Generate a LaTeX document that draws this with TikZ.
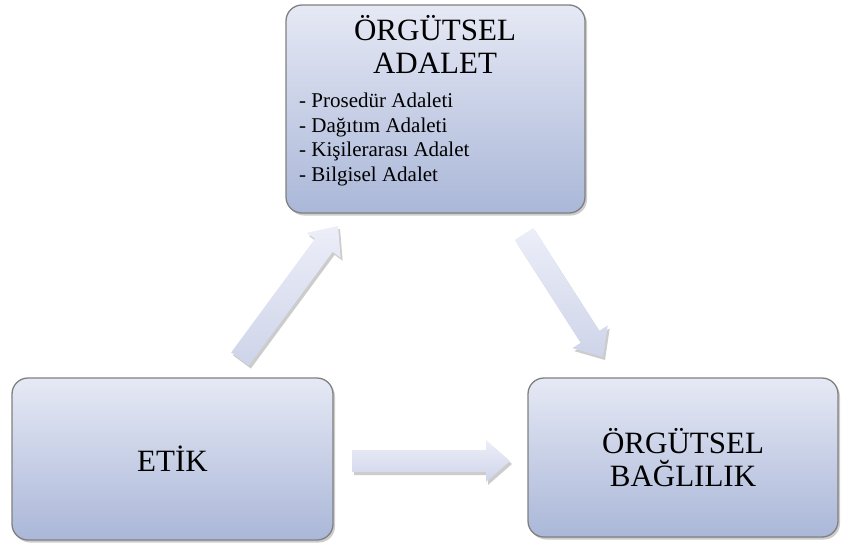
\documentclass[tikz,border=0pt]{standalone}
\usepackage{fontspec}
\setmainfont{Liberation Serif}
\usetikzlibrary{calc,shadows}
\definecolor{boxtop}{RGB}{230,233,245}
\definecolor{boxbot}{RGB}{170,183,216}
\definecolor{boxline}{RGB}{128,128,128}
\definecolor{arrtop}{RGB}{236,238,248}
\definecolor{arrbot}{RGB}{206,212,233}
\tikzset{
 card/.style={draw=boxline, line width=1.3pt, rounded corners=16pt, top color=boxtop, bottom color=boxbot,
   drop shadow={shadow xshift=2pt,shadow yshift=-2.5pt,opacity=.4}, inner sep=0pt},
 title/.style={font=\fontsize{31}{33}\selectfont, align=center},
 items/.style={font=\fontsize{21}{24.5}\selectfont, align=left, anchor=north west, inner sep=0pt},
 arrshade/.style={top color=arrtop, bottom color=arrbot},
 arrshadow/.style={fill=black, opacity=.2, transform canvas={shift={(2pt,-3pt)}}},
}
\newcommand\fatarrow[3]{%
 \coordinate (#1-#2-hb) at ($(#2)!24pt!(#1)$);
 \path[#3] ($(#1)!11pt!90:(#2)$) -- ($(#1-#2-hb)!11pt!90:(#2)$) -- ($(#1-#2-hb)!21pt!90:(#2)$) -- (#2)
   -- ($(#1-#2-hb)!21pt!-90:(#2)$) -- ($(#1-#2-hb)!11pt!-90:(#2)$) -- ($(#1)!11pt!-90:(#2)$) -- cycle;}
\begin{document}
\begin{tikzpicture}[x=1pt,y=-1pt]
\useasboundingbox (0,0) rectangle (842,544);
% boxes
\node[card, minimum width=299pt, minimum height=208pt] (oa) at (435.5,109) {};
\node[title] (oat) at (435,44) {ÖRGÜTSEL\\ADALET};
\node[items] (oal) at (299,93) {- Prosedür Adaleti\\- Dağıtım Adaleti\\- Kişilerarası Adalet\\- Bilgisel Adalet};
\node[card, title, minimum width=321pt, minimum height=162pt] (etik) at (172.5,459) {ETİK};
\node[card, title, minimum width=310pt, minimum height=159pt] (ob) at (683,457.5) {ÖRGÜTSEL\\BAĞLILIK};
% arrow end points
\coordinate (u1) at (240,359); \coordinate (u2) at (338,226);
\coordinate (d1) at (524,234); \coordinate (d2) at (603,357);
\coordinate (h1) at (352,461); \coordinate (h2) at (510,461);
% arrows
\fatarrow{u1}{u2}{arrshadow}
\fatarrow{u1}{u2}{arrshade}
\fatarrow{d1}{d2}{arrshadow}
\fatarrow{d1}{d2}{arrshade}
\fatarrow{h1}{h2}{arrshadow}
\fatarrow{h1}{h2}{arrshade}
\end{tikzpicture}
\end{document}
